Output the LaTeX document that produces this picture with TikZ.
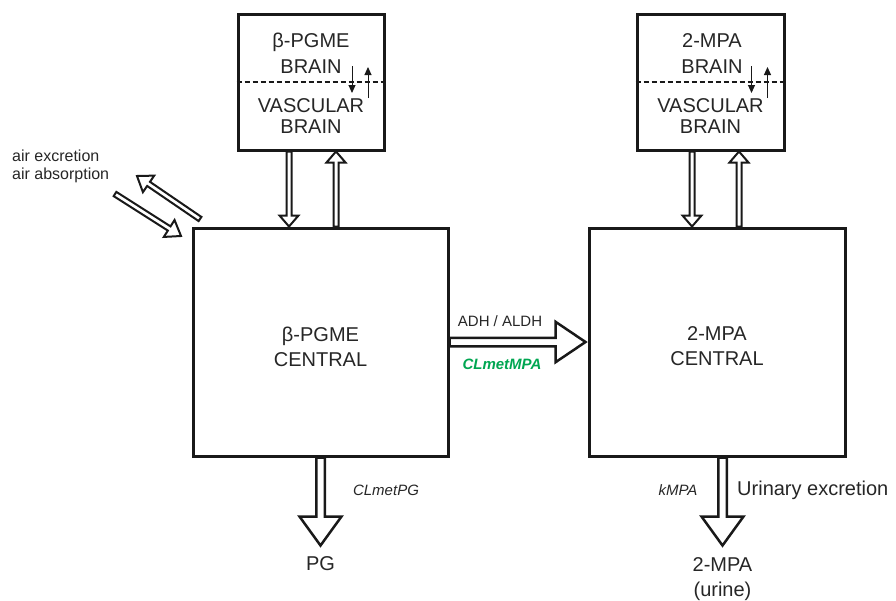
\documentclass[tikz,border=0pt]{standalone}
\usepackage{fontspec}
\setmainfont{Liberation Sans}
\usetikzlibrary{arrows.meta, positioning, calc}

\definecolor{clgreen}{RGB}{0,166,81}

% hollow block arrow: [style]{from}{to}{shaft half width}{head half width}{head length}
\newcommand{\hollowarrow}[6][]{%
  \path (#2) coordinate (ha-s) (#3) coordinate (ha-e);
  \coordinate (ha-b) at ($(ha-e)!#6!(ha-s)$);
  \draw[hollow, #1] ($(ha-s)!#4!90:(ha-e)$) -- ($(ha-b)!#4!90:(ha-e)$)
    -- ($(ha-b)!#5!90:(ha-e)$) -- (ha-e) -- ($(ha-b)!#5!-90:(ha-e)$)
    -- ($(ha-b)!#4!-90:(ha-e)$) -- ($(ha-s)!#4!-90:(ha-e)$) -- cycle;
}

\begin{document}
\begin{tikzpicture}[x=1pt, y=-1pt,
 box/.style={rectangle, draw=black!90, line width=3pt},
 lbl/.style={font=\fontsize{20}{25}\selectfont, text=black!85, align=center, inner sep=2pt},
 note/.style={font=\fontsize{15}{18}\selectfont, text=black!85, inner sep=2pt},
 hollow/.style={draw=black!90, line width=2pt, line join=miter},
 split/.style={draw=black!90, line width=1.5pt, dash pattern=on 5pt off 3pt},
 flux/.style={draw=black!90, line width=1pt, -{Triangle[length=8pt, width=7pt]}}
]
\useasboundingbox (0,0) rectangle (896,600);

\node[box, minimum width=146pt, minimum height=136pt] (pgmebrain) at (311,82) {};
\node[box, minimum width=147pt, minimum height=136pt] (mpabrain) at (710.5,82) {};
\node[box, minimum width=255pt, minimum height=228pt] (pgmecentral) at (320.5,342) {};
\node[box, minimum width=256pt, minimum height=228pt] (mpacentral) at (717,342) {};

\node[lbl, font=\fontsize{20}{26}\selectfont] at ($(pgmebrain)+(0,-28.5)$) {β-PGME\\BRAIN};
\node[lbl, font=\fontsize{20}{21}\selectfont] at ($(pgmebrain)+(0,34.5)$) {VASCULAR\\BRAIN};
\node[lbl, font=\fontsize{20}{26}\selectfont] at ($(mpabrain)+(1.5,-28.5)$) {2-MPA\\BRAIN};
\node[lbl, font=\fontsize{20}{21}\selectfont] at ($(mpabrain)+(0,34.5)$) {VASCULAR\\BRAIN};
\node[lbl] at ($(pgmecentral)+(0,4.5)$) {β-PGME\\CENTRAL};
\node[lbl] at ($(mpacentral)+(0,4.5)$) {2-MPA\\CENTRAL};

\foreach \b in {pgmebrain, mpabrain} {
  \draw[split] (\b.west) -- (\b.east);
  \draw[flux] ($(\b)+(41,-16)$) -- ($(\b)+(41,11)$);
  \draw[flux] ($(\b)+(57,16)$) -- ($(\b)+(57,-15)$);
}

% brain exchange
\coordinate (pgmedown) at ($(pgmebrain.south)+(-22,0)$);
\coordinate (pgmeup) at ($(pgmecentral.north)+(15.5,0)$);
\coordinate (mpadown) at ($(mpabrain.south)+(-18.5,0)$);
\coordinate (mpaup) at ($(mpacentral.north)+(22,0)$);
\hollowarrow{pgmedown}{pgmedown |- pgmecentral.north}{2.5pt}{9.5pt}{11pt}
\hollowarrow{pgmeup}{pgmeup |- pgmebrain.south}{2.5pt}{9.5pt}{11pt}
\hollowarrow{mpadown}{mpadown |- mpacentral.north}{2.5pt}{9.5pt}{11pt}
\hollowarrow{mpaup}{mpaup |- mpabrain.south}{2.5pt}{9.5pt}{11pt}

% metabolism
\hollowarrow[line width=2.5pt]{pgmecentral.east}{$(mpacentral.west)+(-2,0)$}{4.25pt}{20.25pt}{30pt}
\node[note] (adh) at (500,321) {ADH / ALDH};
\node[note, font=\fontsize{15}{18}\selectfont\bfseries\itshape, text=clgreen] (clmpa) at (502,364) {CLmetMPA};

% elimination
\coordinate (pgout) at ($(pgmecentral.south)+(0,88)$);
\hollowarrow[line width=2.5pt]{pgmecentral.south}{pgout}{4.25pt}{21pt}{29pt}
\node[lbl, below=9pt of pgout] (pg) {PG};
\node[note, font=\fontsize{15}{18}\selectfont\itshape] (clpg) at (386,490) {CLmetPG};

\coordinate (mpastart) at ($(mpacentral.south)+(5.5,0)$);
\coordinate (mpaout) at ($(mpastart)+(0,88)$);
\hollowarrow[line width=2.5pt]{mpastart}{mpaout}{4.25pt}{21pt}{29pt}
\node[lbl, below=10pt of mpaout] (mpaurine) {2-MPA\\(urine)};
\node[note, font=\fontsize{15}{18}\selectfont\itshape] (kmpa) at (678,490) {kMPA};
\node[lbl, anchor=west] (urinary) at (735,490) {Urinary excretion};

% air
\coordinate (exhale-s) at (200,219);
\coordinate (exhale-e) at (137,176);
\coordinate (inhale-s) at (115,194);
\coordinate (inhale-e) at (181,236);
\hollowarrow{exhale-s}{exhale-e}{2.5pt}{10pt}{14pt}
\hollowarrow{inhale-s}{inhale-e}{2.5pt}{10pt}{14pt}
\node[note, font=\fontsize{16}{17.5}\selectfont, anchor=west, align=left] (air) at (10,166.5) {air excretion\\air absorption};
\end{tikzpicture}
\end{document}
